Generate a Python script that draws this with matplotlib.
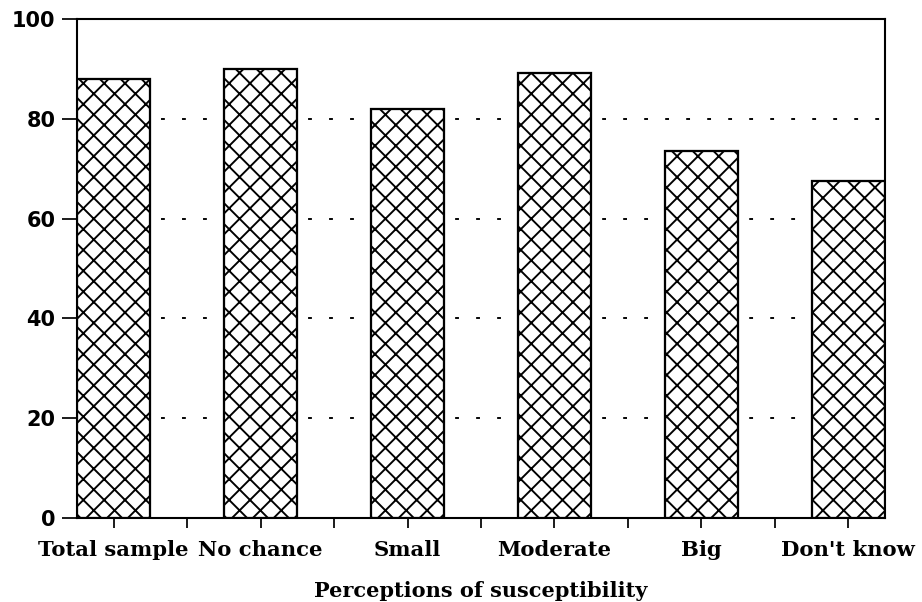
import matplotlib
matplotlib.use("Agg")
import matplotlib.pyplot as plt

categories = ["Total sample", "No chance", "Small", "Moderate", "Big", "Don't know"]
values = [88.0, 90.0, 82.0, 89.2, 73.5, 67.6]
yticks = [0, 20, 40, 60, 80, 100]

DPI = 125
plt.rcParams['hatch.linewidth'] = 1.1
fig = plt.figure(figsize=(922 / DPI, 602 / DPI), dpi=DPI)
ax = fig.add_axes([77 / 922, 1 - 518 / 602, (885 - 77) / 922, (518 - 19) / 602])

w = 0.5
x = list(range(len(categories)))
ax.bar(x, values, width=w, facecolor='white', edgecolor='black', hatch='xx',
       linewidth=1.3, zorder=3)

ax.set_xlim(-w / 2, len(categories) - 1 + w / 2)
ax.set_ylim(0, 100)
ax.set_yticks(yticks)
ax.set_yticklabels([str(t) for t in yticks], fontfamily='DejaVu Sans',
                   fontweight='bold', fontsize=12)
ax.set_xticks(x)
ax.set_xticklabels(categories, fontfamily='DejaVu Serif', fontweight='bold',
                   fontsize=12.2)
ax.set_xticks([i + 0.5 for i in x[:-1]], minor=True)

for t in [20, 40, 60, 80]:
    ax.axhline(t, color='black', linewidth=1.1, linestyle=(0, (2.0, 9.0)), zorder=1)

for s in ax.spines.values():
    s.set_linewidth(1.2)
ax.tick_params(axis='y', direction='out', length=8.5, width=1.0, pad=4)
ax.tick_params(axis='x', which='both', direction='out', length=5.5, width=1.0, pad=7)

ax.set_xlabel("Perceptions of susceptibility", fontfamily='DejaVu Serif',
              fontweight='bold', fontsize=12, labelpad=12.5)

fig.savefig("out.png", dpi=DPI)
